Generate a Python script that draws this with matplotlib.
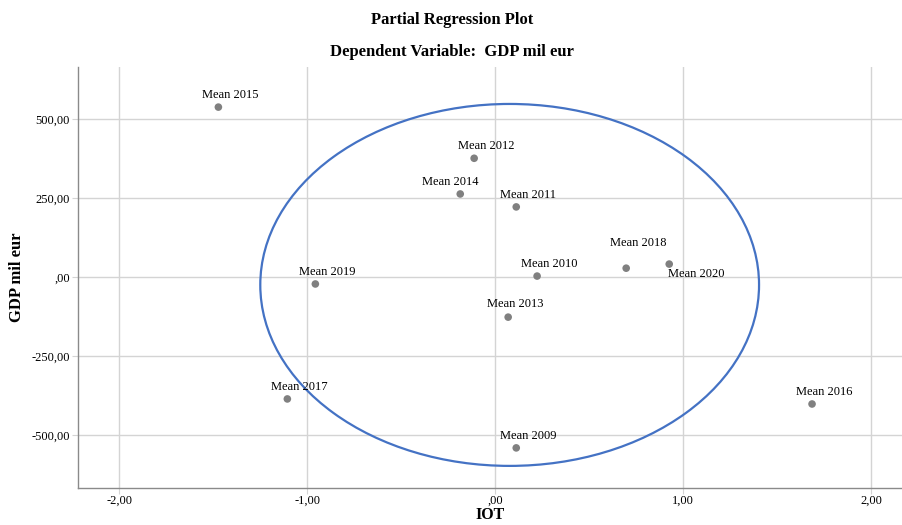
import matplotlib
matplotlib.use("Agg")
import matplotlib.pyplot as plt
from matplotlib.patches import Ellipse
from matplotlib.ticker import FuncFormatter

# partial regression residuals
labels = ["Mean 2009", "Mean 2010", "Mean 2011", "Mean 2012", "Mean 2013", "Mean 2014",
          "Mean 2015", "Mean 2016", "Mean 2017", "Mean 2018", "Mean 2019", "Mean 2020"]
iot = [0.112, 0.223, 0.112, -0.112, 0.069, -0.186, -1.473, 1.686, -1.106, 0.697, -0.957, 0.926]
gdp = [-541, 3, 222, 376, -127, 263, 538, -402, -386, 28, -22, 41]

x_ticks = [-2, -1, 0, 1, 2]
y_ticks = [-500, -250, 0, 250, 500]

# label offsets in pixels where they differ from the default
label_offset = {"Mean 2014": (-10, 12), "Mean 2018": (12, 25), "Mean 2020": (27, -10),
                "Mean 2013": (7, 13)}

plt.rcParams["font.family"] = ["Liberation Serif", "DejaVu Serif"]

fig = plt.figure(figsize=(9.03, 5.25), dpi=100)
ax = fig.add_axes([78 / 903, 1 - 488 / 525, (903 - 78) / 903, (488 - 67) / 525])

ax.set_xlim(-2.22, 2.17)
ax.set_ylim(-668, 665)
ax.set_xticks(x_ticks)
ax.set_yticks(y_ticks)


def comma_fmt(v, pos):
    s = f"{v:.2f}".replace(".", ",")
    if s.startswith("0,"):
        s = s[1:]
    if s.startswith("-0,"):
        s = "-" + s[2:]
    return s


ax.xaxis.set_major_formatter(FuncFormatter(comma_fmt))
ax.yaxis.set_major_formatter(FuncFormatter(comma_fmt))
ax.grid(True, color="#d4d4d4", lw=1)
ax.set_axisbelow(True)
for side in ["top", "right"]:
    ax.spines[side].set_visible(False)
for side in ["left", "bottom"]:
    ax.spines[side].set_color("#8a8a8a")
    ax.spines[side].set_linewidth(1)
ax.tick_params(length=4, color="#d4d4d4", labelsize=9)
ax.tick_params(axis="x", pad=1)
ax.tick_params(axis="y", pad=2)

ell = Ellipse((0.077, -25), 2.654, 1146, fill=False, ec="#4472c4", lw=1.6, zorder=2)
ax.add_patch(ell)

ax.scatter(iot, gdp, s=30, color="#808080", zorder=3, edgecolors="none")
for lab, x, y in zip(labels, iot, gdp):
    dx, dy = label_offset.get(lab, (12, 12))
    ax.annotate(lab, (x, y), xytext=(dx, dy), textcoords="offset pixels",
                ha="center", va="center", fontsize=9, zorder=4)

ax.set_xlabel("IOT", fontsize=11.5, fontweight="bold", va="center")
ax.xaxis.set_label_coords(0.5, -(515 - 488) / 421)
ax.set_ylabel("GDP mil eur", fontsize=12, fontweight="bold", va="center")
ax.yaxis.set_label_coords((17 - 78) / 825, 0.5)

fig.text(452 / 903, 1 - 20 / 525, "Partial Regression Plot", ha="center", va="center",
         fontsize=12, fontweight="bold")
fig.text(452 / 903, 1 - 52 / 525, "Dependent Variable:  GDP mil eur", ha="center",
         va="center", fontsize=12, fontweight="bold")

fig.savefig("out.png", dpi=100)
